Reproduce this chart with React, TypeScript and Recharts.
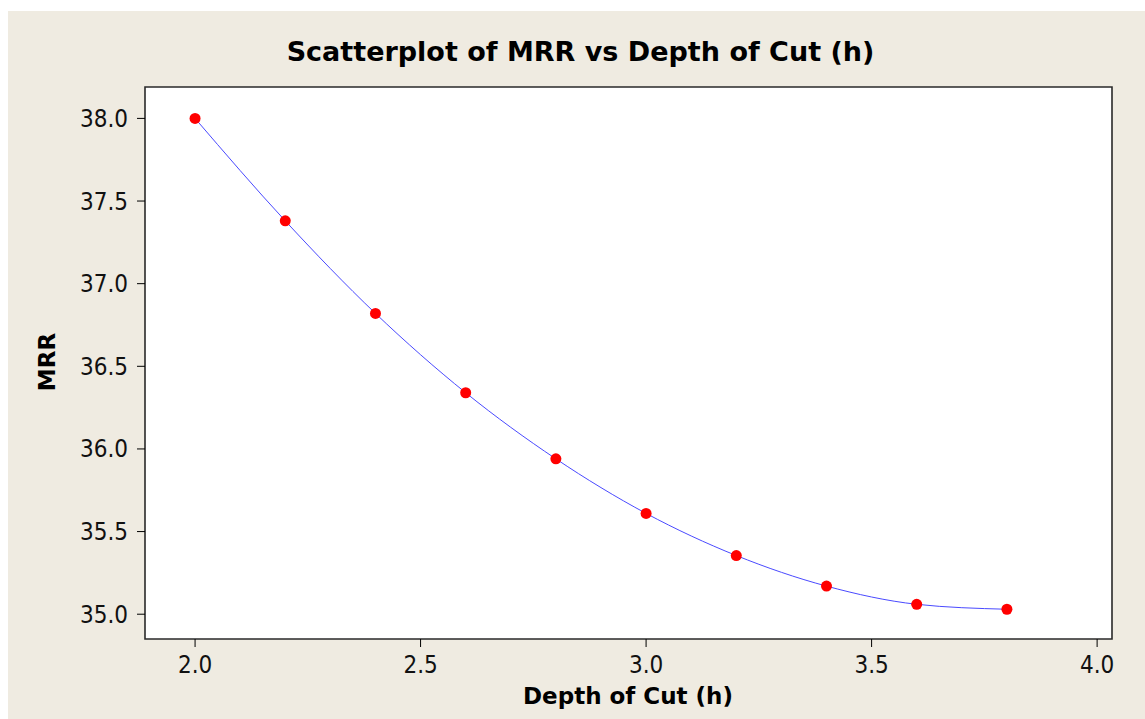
import React from "react";
import { LineChart, Line, XAxis, YAxis, CartesianGrid, ReferenceArea } from "recharts";

const depthOfCut = [2.0, 2.2, 2.4, 2.6, 2.8, 3.0, 3.2, 3.4, 3.6, 3.8];
const mrrValues = [38.0, 37.38, 36.82, 36.34, 35.94, 35.61, 35.355, 35.17, 35.06, 35.03];
const xTicks = [2.0, 2.5, 3.0, 3.5, 4.0];
const yTicks = [35.0, 35.5, 36.0, 36.5, 37.0, 37.5, 38.0];
const xDomain: [number, number] = [1.889, 4.033];
const yDomain: [number, number] = [34.85, 38.19];

const titleText = "Scatterplot of MRR vs Depth of Cut (h)";
const xLabelText = "Depth of Cut (h)";
const yLabelText = "MRR";

const data = depthOfCut.map((h, i) => ({ h, mrr: mrrValues[i] }));

const W = 1137;
const H = 708;
const tickFont = "'DejaVu Sans Condensed', 'DejaVu Sans', sans-serif";
const boldFont = "'DejaVu Sans', sans-serif";

export default function App() {
  return (
    <div
      style={{
        position: "fixed",
        left: 8,
        top: 11,
        width: W,
        height: H,
        background: "#efebe1",
      }}
    >
      <LineChart
        width={W}
        height={H}
        data={data}
        margin={{ top: 76, right: 33, bottom: 40, left: 77 }}
      >
        <CartesianGrid horizontal={false} vertical={false} fill="#ffffff" />
        <XAxis
          dataKey="h"
          type="number"
          domain={xDomain}
          ticks={xTicks}
          allowDataOverflow
          height={40}
          axisLine={false}
          tickLine={{ stroke: "#000" }}
          tickSize={8}
          tickMargin={9}
          tickFormatter={(v: number) => v.toFixed(1)}
          tick={{ fill: "#111", fontSize: 24, fontFamily: tickFont }}
        />
        <YAxis
          type="number"
          domain={yDomain}
          ticks={yTicks}
          allowDataOverflow
          width={60}
          axisLine={false}
          tickLine={{ stroke: "#000" }}
          tickSize={8}
          tickMargin={9}
          tickFormatter={(v: number) => v.toFixed(1)}
          tick={{ fill: "#111", fontSize: 24, fontFamily: tickFont }}
        />
        <ReferenceArea
          x1={xDomain[0]}
          x2={xDomain[1]}
          y1={yDomain[0]}
          y2={yDomain[1]}
          fill="none"
          fillOpacity={0}
          stroke="#2a2a2a"
          strokeWidth={1.6}
          ifOverflow="visible"
        />
        <Line
          dataKey="mrr"
          type="monotone"
          stroke="#4a4aff"
          strokeWidth={1}
          dot={{ r: 5.5, fill: "#ff0000", stroke: "#ff0000", strokeWidth: 0 }}
          activeDot={false}
          isAnimationActive={false}
        />
      </LineChart>
      <svg
        width={W}
        height={H}
        style={{ position: "absolute", left: 0, top: 0, pointerEvents: "none" }}
      >
        <text
          x={572.5}
          y={50}
          textAnchor="middle"
          fontFamily={boldFont}
          fontWeight="bold"
          fontSize={27}
          fill="#000"
        >
          {titleText}
        </text>
        <text
          x={620}
          y={693}
          textAnchor="middle"
          fontFamily={boldFont}
          fontWeight="bold"
          fontSize={23}
          fill="#000"
        >
          {xLabelText}
        </text>
        <text
          x={47}
          y={351}
          textAnchor="middle"
          fontFamily={boldFont}
          fontWeight="bold"
          fontSize={23}
          fill="#000"
          transform="rotate(-90, 47, 351)"
        >
          {yLabelText}
        </text>
      </svg>
    </div>
  );
}
